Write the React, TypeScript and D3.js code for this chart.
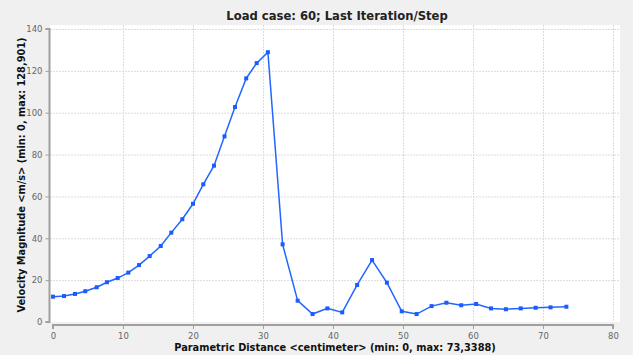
import React, { useEffect, useRef } from "react";
import * as d3 from "d3";

// distance along path (cm)
const distance = [
  0, 1.57, 3.14, 4.61, 6.24, 7.71, 9.24, 10.76, 12.29, 13.81, 15.39, 16.9, 18.47,
  20.0, 21.47, 23.0, 24.5, 26.0, 27.6, 29.1, 30.7, 32.8, 34.95, 37.08, 39.2,
  41.32, 43.45, 45.58, 47.7, 49.82, 51.95, 54.08, 56.2, 58.32, 60.45, 62.58,
  64.7, 66.82, 68.95, 71.08, 73.34,
];
// velocity magnitude (m/s)
const velocity = [
  12.1, 12.4, 13.4, 14.7, 16.6, 19.0, 21.0, 23.6, 27.2, 31.5, 36.3, 42.7, 49.1,
  56.5, 65.8, 74.7, 88.7, 102.7, 116.4, 123.7, 128.9, 37.1, 10.2, 3.8, 6.5, 4.6,
  17.7, 29.6, 18.8, 5.1, 3.8, 7.6, 9.2, 8.0, 8.6, 6.5, 6.1, 6.5, 6.8, 7.0, 7.3,
];
const xTicks = [0, 10, 20, 30, 40, 50, 60, 70, 80];
const yTicks = [0, 20, 40, 60, 80, 100, 120, 140];

const title = "Load case: 60; Last Iteration/Step";
const xLabel = "Parametric Distance <centimeter> (min: 0, max: 73,3388)";
const yLabel = "Velocity Magnitude <m/s> (min: 0, max: 128,901)";

const labelFont = "DejaVu Sans, Verdana, sans-serif";

export default function App() {
  const svgRef = useRef<SVGSVGElement>(null);

  useEffect(() => {
    const width = 633;
    const height = 355;
    const svg = d3.select(svgRef.current).attr("width", width).attr("height", height);
    svg.selectAll("*").remove();

    const x = d3.scaleLinear().domain([0, 80]).range([53, 613]);
    const y = d3.scaleLinear().domain([0, 140]).range([322, 29]);

    svg.append("rect").attr("width", width).attr("height", height).attr("fill", "#f0f0f0");
    // plot background
    svg.append("rect").attr("x", 50).attr("y", 25).attr("width", 570).attr("height", 297)
      .attr("fill", "#ffffff");

    // grid
    const grid = svg.append("g").attr("stroke", "#dcdcdc").attr("stroke-dasharray", "2,1");
    grid.selectAll("line.gx").data(xTicks.filter(d => d > 0)).join("line")
      .attr("x1", d => x(d) + 0.5).attr("x2", d => x(d) + 0.5)
      .attr("y1", 25).attr("y2", 322);
    grid.selectAll("line.gy").data(yTicks.filter(d => d > 0)).join("line")
      .attr("x1", 50).attr("x2", 620)
      .attr("y1", d => y(d) + 0.5).attr("y2", d => y(d) + 0.5);

    // axes
    const xAxis = d3.axisBottom(x).tickValues(xTicks).tickSize(4).tickPadding(4);
    const gx = svg.append("g").attr("transform", "translate(0,325)").call(xAxis);
    const yAxis = d3.axisLeft(y).tickValues(yTicks).tickSize(4).tickPadding(3);
    const gy = svg.append("g").attr("transform", "translate(49.5,0)").call(yAxis);
    [gx, gy].forEach(g => {
      g.select(".domain").attr("stroke", "#a0a0a0").attr("stroke-width", 2);
      g.selectAll(".tick line").attr("stroke", "#a0a0a0");
      g.selectAll(".tick text").attr("fill", "#666").attr("font-size", 8.5)
        .attr("font-family", "DejaVu Sans, sans-serif");
    });
    gx.select(".domain").attr("d", `M${x(0)},4V0H${x(80)}V4`);
    gy.select(".domain").attr("d", `M-4,${y(140)}H0V${y(0)}H-4`);

    // series
    const pts = distance.map((d, i) => [d, velocity[i]] as [number, number]);
    const line = d3.line<[number, number]>().x(d => x(d[0])).y(d => y(d[1]));
    svg.append("path").attr("d", line(pts)).attr("fill", "none")
      .attr("stroke", "#2266ff").attr("stroke-width", 1.5);
    svg.selectAll("rect.pt").data(pts).join("rect").attr("class", "pt")
      .attr("x", d => x(d[0]) - 2).attr("y", d => y(d[1]) - 2)
      .attr("width", 4).attr("height", 4).attr("fill", "#1a5cff");

    // labels
    svg.append("text").attr("x", 337).attr("y", 20).attr("text-anchor", "middle")
      .attr("font-family", labelFont).attr("font-weight", "bold")
      .attr("font-size", 11.6).attr("fill", "#222").text(title);
    svg.append("text").attr("x", 335).attr("y", 351).attr("text-anchor", "middle")
      .attr("font-family", labelFont).attr("font-weight", "bold")
      .attr("font-size", 9.8).attr("fill", "#111").text(xLabel);
    svg.append("text").attr("transform", "translate(25,175) rotate(-90)").attr("text-anchor", "middle")
      .attr("font-family", labelFont).attr("font-weight", "bold")
      .attr("font-size", 9.8).attr("fill", "#111").text(yLabel);
  }, []);

  return <svg ref={svgRef} style={{ position: "fixed", left: 0, top: 0 }} />;
}
